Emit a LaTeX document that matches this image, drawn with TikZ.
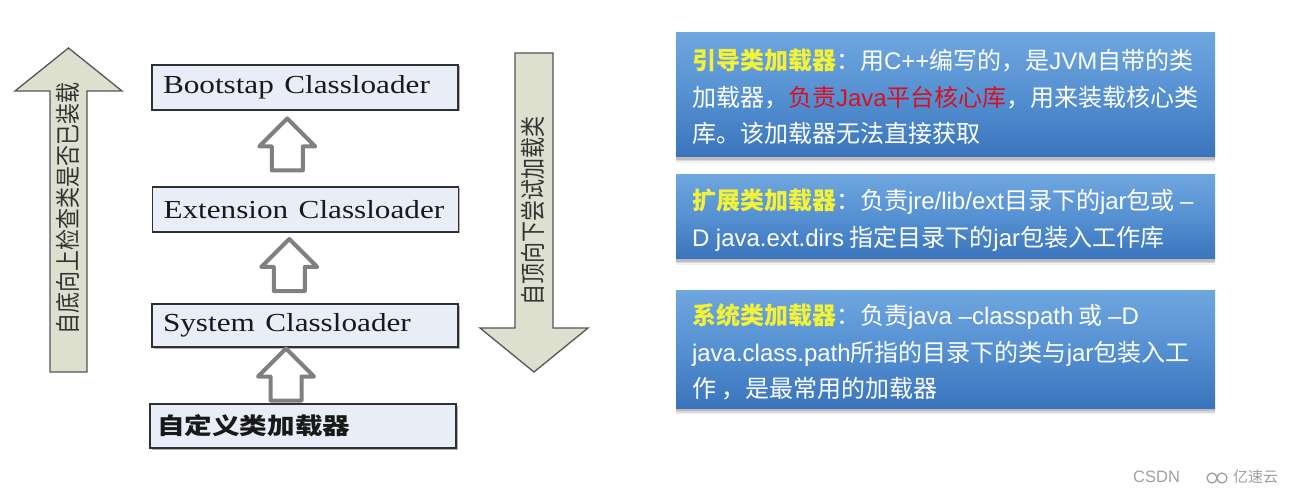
\documentclass[tikz,border=0pt]{standalone}
\usepackage{fontspec}
\usepackage{graphicx}
\setmainfont{Liberation Serif}
\newfontfamily\cjk{Noto Sans CJK SC}
\newfontfamily\arialf{Liberation Sans}
\newcommand\la[1]{{\arialf #1}}
\usetikzlibrary{calc,shadows}
\definecolor{boxfill}{HTML}{E8EDF7}
\definecolor{boxline}{HTML}{303030}
\definecolor{bigfill}{HTML}{DDE0CF}
\definecolor{bigline}{HTML}{555555}
\definecolor{hollow}{HTML}{808080}
\definecolor{ptop}{HTML}{6EA6DE}
\definecolor{pmid}{HTML}{5590D2}
\definecolor{pbot}{HTML}{3A74BC}
\definecolor{hdr}{HTML}{F2F23A}
\definecolor{redtxt}{HTML}{D81020}
\definecolor{wm}{HTML}{A0A0A0}
\begin{document}
\begin{tikzpicture}[x=1pt,y=-1pt,
  lbox/.style={draw=boxline, line width=1.5pt, fill=boxfill, rectangle,
    minimum height=45pt, text width=284pt, inner xsep=11pt, inner ysep=0pt,
    align=left, font=\fontsize{26}{30}\selectfont, text=black!90,
    drop shadow={shadow xshift=1.5pt, shadow yshift=-1.5pt, fill=black, opacity=0.3}},
  bigarrow/.style={draw=bigline, line width=1.3pt, fill=bigfill, line join=miter},
  vtext/.style={font=\cjk\fontsize{21}{21}\selectfont, text=black!80, inner sep=0pt},
  hollowline/.style={draw=hollow, line width=4pt, fill=white, line join=round},
  hollowup/.pic={\path[hollowline] (-15.5,26) -- (-15.5,2) -- (-28,2) -- (0,-26) -- (28,2) -- (15.5,2) -- (15.5,26) -- cycle;},
  panel/.style={rectangle, minimum width=539pt, inner sep=0pt,
    top color=ptop, bottom color=pbot, middle color=pmid, draw=none,
    drop shadow={shadow xshift=0pt, shadow yshift=-6pt, fill=black, opacity=0.06},
    drop shadow={shadow xshift=0pt, shadow yshift=-4.5pt, fill=black, opacity=0.09},
    drop shadow={shadow xshift=0pt, shadow yshift=-3pt, fill=black, opacity=0.14}},
  ptext/.style={align=left, inner sep=0pt, text=white,
    font=\cjk\fontsize{24}{36.5}\selectfont},
  wmtext/.style={inner sep=0pt, text=wm}
]
\fill[white] (0,0) rectangle (1291,497);
\useasboundingbox (0,0) rectangle (1291,497);

% big side arrows
\path[bigarrow] (50,372) -- (50,91) -- (15,91) -- (68.5,48) -- (122,91) -- (87,91) -- (87,372) -- cycle;
\node[vtext, rotate=90] (uptext) at (68,208) {\scalebox{1}[1.2]{自底向上检查类是否已装载}};
\path[bigarrow] (515,53) -- (515,328) -- (480,328) -- (534,372) -- (588,328) -- (553,328) -- (553,53) -- cycle;
\node[vtext, rotate=90] (downtext) at (533,211) {\scalebox{1}[1.2]{自顶向下尝试加载类}};

% loader boxes
\node[lbox, minimum height=45pt] (boot) at (305,87.5) {\scalebox{1.2}[1]{Bootstap Classloader}};
\node[lbox, minimum height=45pt] (ext) at (305.5,209.5) {\scalebox{1.2}[1]{Extension Classloader}};
\node[lbox, minimum height=43pt] (sys) at (305,325.5) {\scalebox{1.2}[1]{System Classloader}};
\node[lbox, minimum height=44pt, inner xsep=7pt, text width=292pt] (cust) at (303,426) {\scalebox{1.2}[1]{\cjk\bfseries\fontsize{23}{26}\selectfont 自定义类加载器}};

% hollow arrows between boxes
\pic at ($(boot.south)!0.5!(ext.north)+(-18,-4)$) {hollowup};
\pic at ($(ext.south)!0.5!(sys.north)+(-16,-3)$) {hollowup};
\pic at ($(sys.south)!0.5!(cust.north)+(-18,-1)$) {hollowup};

% right panels
\node[panel, minimum height=124pt] (p1) at (945.5,95) {};
\node[ptext, anchor=west] (t1) at ($(p1.west)+(16,2)$) {%
\textcolor{hdr}{\bfseries 引导类加载器}：用\la{C++}编写的，是\la{JVM}自带的类\\
加载器，\textcolor{redtxt}{负责\la{Java}平台核心库}，用来装载核心类\\
库。该加载器无法直接获取};

\node[panel, minimum height=84pt] (p2) at (945.5,217) {};
\node[ptext, anchor=west] (t2) at ($(p2.west)+(16,3)$) {%
\textcolor{hdr}{\bfseries 扩展类加载器}：负责\la{jre/lib/ext}目录下的\la{jar}包或 \la{–}\\
\la{D java.ext.dirs} 指定目录下的\la{jar}包装入工作库};

\node[panel, minimum height=118pt] (p3) at (945.5,349) {};
\node[ptext, anchor=west] (t3) at ($(p3.west)+(16,3)$) {%
\textcolor{hdr}{\bfseries 系统类加载器}：负责\la{java –classpath} 或 \la{–D}\\
\la{java.class.path}所指的目录下的类与\la{jar}包装入工\\
作 ，是最常用的加载器};

% watermark
\node[wmtext, anchor=west, font=\arialf\fontsize{16.5}{18}\selectfont] (csdn) at (1133,477) {CSDN};
\coordinate (logo) at (1217,477);
\draw[wm, line width=1.3pt] ($(logo)+(-5,1)$) circle[radius=5];
\draw[wm, line width=1.3pt] ($(logo)+(5,1)$) circle[radius=5];
\node[wmtext, anchor=west, font=\cjk\fontsize{15}{17}\selectfont] (ysy) at (1233,477) {亿速云};
\end{tikzpicture}
\end{document}
